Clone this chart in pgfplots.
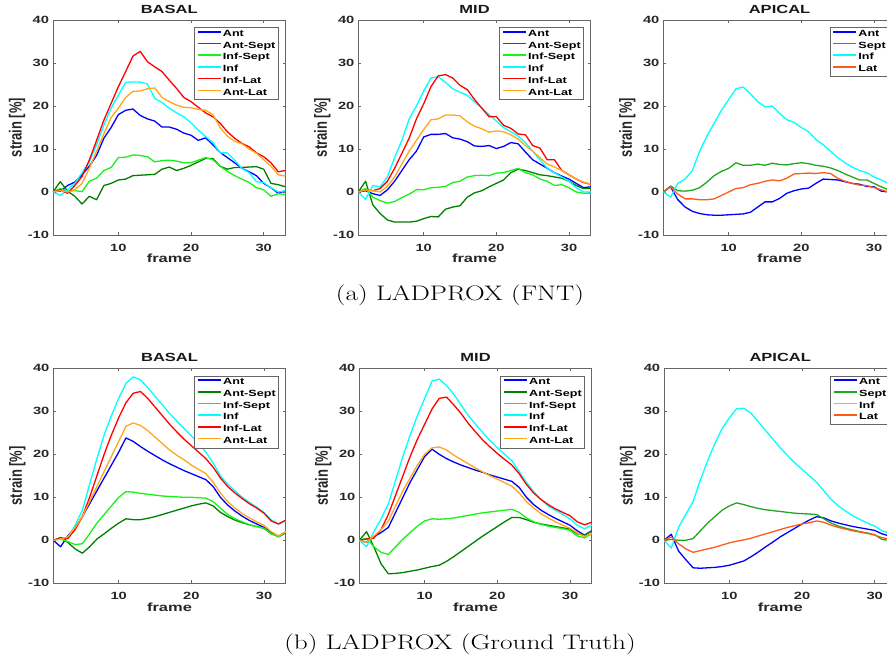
\documentclass[border=0pt]{standalone}
\usepackage{fontspec}
\usepackage{pgfplots}
\pgfplotsset{compat=1.18}
\usepackage{pgfplotstable}
\newfontfamily\hv{Liberation Sans}[FakeStretch=1.4]
\newfontfamily\hvr{Liberation Sans}
\newfontfamily\lmc{Latin Modern Roman}[FakeStretch=1.3]

\definecolor{cAnt}{rgb}{0,0,1}
\definecolor{cAntSept}{rgb}{0,0.5,0}
\definecolor{cInfSept}{rgb}{0.1,0.95,0.1}
\definecolor{cInf}{rgb}{0,1,1}
\definecolor{cInfLat}{rgb}{1,0,0}
\definecolor{cAntLat}{rgb}{1,0.65,0.1}
\definecolor{cSept}{rgb}{0.12,0.66,0.12}
\definecolor{cLat}{rgb}{1,0.35,0.1}

% BASAL (FNT)
\pgfplotstableread{
f ant antsept infsept inf inflat antlat
1 0 0 0 0 0 0
2 0.2 2.4 0.8 -0.8 0.5 0.3
3 1.5 0.2 0.2 0.5 -0.3 0
4 2.3 -1 0.3 2 1.5 0.5
5 4 -2.8 0.1 4.5 3.6 2
6 6 -1 2.5 7 7.4 5.5
7 8.5 -1.8 3.2 11 12 9.5
8 12.5 1.5 5 15.5 16.7 13.5
9 15 2 5.7 19.5 20.6 17.3
10 18 2.8 8 22.5 24.5 19.5
11 19 3 8.1 25.5 28 22
12 19.3 3.8 8.6 25.6 31.6 23.4
13 17.8 3.9 8.5 25.6 32.7 23.5
14 17 4 8.2 25.1 30.3 24
15 16.5 4.1 7 21.8 29.1 24.2
16 15.1 5.3 7.3 20.8 28 22
17 15.1 5.8 7.4 19.5 26 21
18 14.6 5 7.2 18.4 24.1 20.2
19 13.7 5.5 6.8 17.5 22 19.7
20 13.2 6.2 6.8 16.1 21 19.6
21 12 7 7.4 14.4 19.7 19.2
22 12.6 7.8 8 12.9 18.4 19
23 11 7.8 7.5 11.5 17.5 18
24 9.2 6 6 9.1 16 15
25 8 5.3 4.8 9.1 14 13
26 6.8 5.7 3.8 7.4 12.5 11.8
27 5.5 5.7 3 5.5 11.3 11.2
28 4.7 5.8 2.2 4.5 10.5 10
29 3.8 5.9 1 2.4 9.1 9
30 2 5.3 0.5 2.2 8.2 7.5
31 1 2 -1 1 6.8 6
32 -0.3 1.7 -0.4 0 4.7 4
33 0.3 1.2 -0.6 0.3 5 3.7
}\tA

% MID (FNT)
\pgfplotstableread{
f ant antsept infsept inf inflat antlat
1 0 0 0 0 0 0
2 0.3 2.5 0.8 -1.7 0.5 0.5
3 -0.4 -3 -1.2 1.5 0.3 0.3
4 -0.8 -5 -2 1.2 0.8 0
5 0.5 -6.5 -2.6 3.5 2.5 1.3
6 2.5 -7 -2.2 8 5.5 3.5
7 5 -7 -1.3 12 9 6.5
8 7.5 -7 -0.5 17 12.5 9.5
9 9.5 -6.8 0.5 20 17 12
10 12.8 -6.2 0.5 23.5 20.5 14.5
11 13.4 -5.7 1 26.5 24.5 16.8
12 13.4 -5.8 1.1 26.8 27 17
13 13.6 -4 1.3 25.5 27.3 17.9
14 12.6 -3.5 2.2 24 26.5 17.9
15 12.3 -3.2 2.5 23.2 24.8 17.7
16 11.7 -1.2 3.5 22.5 23.8 16.3
17 10.7 -0.2 3.8 21 21.5 15.3
18 10.6 0.3 3.9 19.5 19.5 14.7
19 10.8 1.2 3.8 18 17.5 13.9
20 10.1 2 4.4 16.5 17.5 14.2
21 10.6 2.8 4.5 15 15.5 14
22 11.5 4.5 5 14 14.8 13.3
23 11.2 5.3 5.5 13 13.5 12.3
24 9.3 5 4.5 11.5 13.3 10.8
25 7.5 4.5 4 9.5 10.8 9.5
26 6.5 4 3 7.5 10.2 8
27 5.5 3.8 2.5 5.5 7.5 6.5
28 4.5 3.5 1.5 4.5 7.5 5.8
29 3.7 3.2 1.7 3.5 5 5
30 3 2.5 1 2.5 4 4
31 2 1.5 0 1 3 3
32 1 0.8 -0.3 0 2.2 2.3
33 1.2 0.8 -0.3 0 1.8 1.8
}\tB

% APICAL (FNT)
\pgfplotstableread{
f ant sept inf lat
1 0 0 0 0
2 1.2 1.4 -1.2 1.2
3 -1.8 0.3 2 -0.5
4 -3.5 0.2 3 -1.6
5 -4.5 0.4 5 -1.6
6 -5 1 9.5 -1.8
7 -5.3 2.3 13 -1.8
8 -5.4 3.8 16 -1.6
9 -5.4 4.8 19 -0.8
10 -5.3 5.5 21.5 0
11 -5.2 6.8 24 0.8
12 -5.1 6.2 24.4 1
13 -4.7 6.2 22.8 1.7
14 -3.5 6.5 21 2
15 -2.3 6.2 19.8 2.5
16 -2.3 6.7 20 2.8
17 -1.5 6.4 18.3 2.6
18 -0.3 6.3 16.8 3.2
19 0.3 6.6 16.2 4.2
20 0.7 6.8 15 4.3
21 0.9 6.6 14 4.4
22 2 6.2 12.2 4.3
23 3 6 11 4.5
24 2.9 5.6 9.5 4.3
25 2.8 5 8 3.2
26 2.4 4.2 6.8 2.5
27 2 3.5 5.8 2
28 1.8 2.8 5 1.6
29 1.3 2.8 4.5 1.5
30 1.2 2 3.5 1
31 0.2 1.2 2.8 0.5
32 0 0.5 2 0
33 -0.2 0.2 1.5 -0.2
}\tC

% BASAL (Ground Truth)
\pgfplotstableread{
f ant antsept infsept inf inflat antlat
1 0 0 0 0 0 0
2 -1.5 0.6 0.3 0.3 0.6 0.3
3 1 -0.5 -0.3 0.5 0.4 0.8
4 3 -2 -1 3.5 2.5 3
5 5.5 -3 -0.8 7 5.5 5.5
6 8.5 -1.5 1.5 13 10 9
7 11.5 0.3 4 19 15 12.5
8 14.5 1.5 6 24.5 20 16
9 17.5 2.8 8 29 24.5 19.5
10 20.5 4 10 33 28.5 23
11 23.8 5 11.3 36.5 32 26.5
12 23 4.8 11.2 38 34.2 27.3
13 21.8 4.8 10.9 37.3 34.6 26.7
14 20.7 5.1 10.7 35.5 33 25.5
15 19.7 5.5 10.5 33.5 31 24
16 18.7 6 10.3 31.5 29 22.5
17 17.8 6.5 10.2 29.5 27 21
18 17 7 10.1 27.7 25.2 19.8
19 16.2 7.5 10 26 23.5 18.7
20 15.5 8 10 24.3 22 17.5
21 14.8 8.4 9.9 22.5 20.5 16.5
22 14.1 8.7 9.8 20.5 19 15.5
23 12.5 8 9 18 17 13.5
24 10 6.5 7.5 15 14.5 11
25 8.2 5.5 6 13 12.5 9
26 6.8 4.7 5 11.5 11 7.5
27 5.6 4.1 4.3 10 9.7 6.2
28 4.6 3.6 3.6 8.8 8.5 5.2
29 3.8 3.2 3.2 7.7 7.5 4.3
30 3 2.8 2.8 6.5 6.3 3.5
31 1.8 1.5 1.5 4.7 4.5 2
32 0.8 1 0.8 3.8 3.8 1
33 1.8 1.8 2 4.5 4.7 2
}\tD

% MID (Ground Truth)
\pgfplotstableread{
f ant antsept infsept inf inflat antlat
1 0 0 0 0 0 0
2 -0.5 2 0.5 -1.5 0.3 -0.5
3 0.8 -1.5 -1.5 2 0.5 1
4 1.8 -5.5 -2.8 5 2.5 2.5
5 3 -7.8 -3.3 8.5 6 4.5
6 6.5 -7.7 -1.5 14 10.5 8
7 10 -7.5 0.3 19.5 15 11.5
8 13.5 -7.2 1.8 24.5 19.5 14.5
9 16.5 -6.9 3.3 29 23.5 17.5
10 19.5 -6.5 4.5 33 27 20
11 21.2 -6.1 5 37 30.5 21.5
12 20 -5.8 4.9 37.5 33 21.7
13 19 -4.9 5 36 33.3 21
14 18.2 -3.8 5.2 34 31.5 19.8
15 17.5 -2.6 5.5 31.5 29.5 18.8
16 16.9 -1.4 5.8 29 27.2 17.8
17 16.3 -0.2 6.1 27 25.2 16.8
18 15.8 1 6.4 25 23.3 15.9
19 15.2 2.1 6.6 23.2 21.7 15
20 14.7 3.2 6.8 21.5 20.2 14.2
21 14.2 4.3 7 20 18.8 13.4
22 13.7 5.3 7.2 18.5 17.5 12.6
23 12.3 5.3 6.5 16 15.5 11
24 10 4.8 5.2 13.5 13 9
25 8.3 4.2 4.3 11.3 11 7.5
26 7 3.8 3.7 9.5 9.5 6.2
27 6 3.5 3.3 8 8.3 5.2
28 5.1 3.2 3 7 7.3 4.3
29 4.3 2.9 2.7 6 6.5 3.5
30 3.5 2.6 2.3 5 5.7 2.8
31 2.2 1.5 1 3.5 4.3 1.7
32 1.2 1.2 0.6 2.7 3.6 0.9
33 2.2 2.2 1.5 3.5 4.2 1.6
}\tE

% APICAL (Ground Truth)
\pgfplotstableread{
f ant sept inf lat
1 0 0 0 0
2 1.4 0.2 -1.8 0.8
3 -2.5 0 3 -0.8
4 -4.5 0 6 -2
5 -6.4 0.4 9 -2.8
6 -6.5 2.2 14 -2.4
7 -6.4 4 18.5 -2
8 -6.3 5.5 22.5 -1.6
9 -6.1 7 26 -1.1
10 -5.8 8 28.5 -0.6
11 -5.3 8.7 30.6 -0.2
12 -4.8 8.3 30.7 0.1
13 -3.8 7.8 29.5 0.5
14 -2.7 7.4 27.5 1
15 -1.5 7.1 25.5 1.5
16 -0.4 6.9 23.5 2
17 0.8 6.7 21.5 2.5
18 1.8 6.5 19.7 3
19 2.8 6.3 18 3.4
20 3.8 6.2 16.5 3.8
21 4.7 6.1 15 4.1
22 5.5 6 13.5 4.5
23 5.2 5 11.5 4.2
24 4.5 4 9.5 3.5
25 4 3.3 8 3
26 3.6 2.8 6.8 2.6
27 3.2 2.4 5.7 2.2
28 2.9 2 4.8 1.9
29 2.6 1.7 4 1.6
30 2.3 1.3 3.3 1.2
31 1.5 0.2 2.2 0.6
32 1 0 1.7 0.3
33 1 -0.2 1.5 0.2
}\tF

\newcommand\tickf{\hv\bfseries\fontsize{10.5}{12}\selectfont}
\newcommand\labf{\hv\bfseries\fontsize{11.8}{13}\selectfont}
\newcommand\legf{\hv\bfseries\fontsize{9}{10}\selectfont}
\newcommand\ylabf{\hvr\bfseries\fontsize{13}{15}\selectfont}

\pgfplotsset{
  every axis title shift=0pt,
  strain/.style={
    scale only axis, width=232.5pt, height=215pt,
    xmin=1, xmax=33, ymin=-10, ymax=40,
    xtick={10,20,30}, xticklabels={10,20,30},
    ytick={-10,0,10,20,30,40}, yticklabels={-10,0,10,20,30,40},
    tick align=inside, major tick length=3pt,
    axis line style={draw=black!60, line width=0.7pt},
    every tick/.style={draw=black!60, line width=0.6pt},
    xticklabel style={font=\tickf, text=black!85, anchor=base, yshift=-16.7pt, inner sep=0pt},
    yticklabel style={font=\tickf, text=black!85, anchor=east, xshift=-3.7pt, inner sep=0pt},
    title style={font=\labf, text=black!90, anchor=base, at={(axis description cs:0.5,1)}, yshift=6.7pt, inner sep=0pt},
    xlabel=frame,
    xlabel style={font=\labf, text=black!85, anchor=base, at={(axis description cs:0.5,0)}, yshift=-28pt, inner sep=0pt},
    legend style={at={(axis description cs:1,1)}, anchor=north east, xshift=-7.3pt, yshift=-7.3pt,
      draw=black!60, line width=0.6pt, fill=white, font=\legf,
      inner xsep=2.5pt, inner ysep=2.5pt, row sep=3.2pt, column sep=1.5pt,
      nodes={inner sep=0pt, text height=6.5pt, text depth=2pt}},
    legend cell align=left,
    legend image code/.code={\draw[#1, line width=1.6pt] (0pt,2.5pt) -- (23pt,2.5pt);},
    every axis plot/.append style={line width=1.3pt, line join=round},
  }
}
\tikzset{ylab/.style={rotate=90, yscale=1.35, anchor=center, inner sep=0pt, font=\ylabf, text=black!85}}

\begin{document}
\begin{tikzpicture}[x=1pt,y=1pt]
% ---------- (a) FNT ----------
\begin{axis}[strain, name=A, at={(53pt,433pt)}, anchor=south west, title=BASAL,
  legend entries={Ant,Ant-Sept,Inf-Sept,Inf,Inf-Lat,Ant-Lat}]
\addplot[cAnt] table[x=f,y=ant]{\tA};
\addplot[cAntSept] table[x=f,y=antsept]{\tA};
\addplot[cInfSept] table[x=f,y=infsept]{\tA};
\addplot[cInf] table[x=f,y=inf]{\tA};
\addplot[cInfLat] table[x=f,y=inflat]{\tA};
\addplot[cAntLat] table[x=f,y=antlat]{\tA};
\end{axis}
\node[ylab] at ([xshift=-36pt]A.west) {strain [\%]};
\begin{axis}[strain, name=B, at={(358.3pt,433pt)}, anchor=south west, title=MID,
  legend entries={Ant,Ant-Sept,Inf-Sept,Inf,Inf-Lat,Ant-Lat}]
\addplot[cAnt] table[x=f,y=ant]{\tB};
\addplot[cAntSept] table[x=f,y=antsept]{\tB};
\addplot[cInfSept] table[x=f,y=infsept]{\tB};
\addplot[cInf] table[x=f,y=inf]{\tB};
\addplot[cInfLat] table[x=f,y=inflat]{\tB};
\addplot[cAntLat] table[x=f,y=antlat]{\tB};
\end{axis}
\node[ylab] at ([xshift=-36pt]B.west) {strain [\%]};
\begin{axis}[strain, name=C, at={(663.3pt,433pt)}, anchor=south west, title=APICAL,
  legend entries={Ant,Sept,Inf,Lat}]
\addplot[cAnt] table[x=f,y=ant]{\tC};
\addplot[cSept] table[x=f,y=sept]{\tC};
\addplot[cInf] table[x=f,y=inf]{\tC};
\addplot[cLat] table[x=f,y=lat]{\tC};
\end{axis}
\node[ylab] at ([xshift=-36pt]C.west) {strain [\%]};
% ---------- (b) Ground Truth ----------
\begin{axis}[strain, name=D, at={(53.3pt,84.7pt)}, anchor=south west, title=BASAL,
  legend entries={Ant,Ant-Sept,Inf-Sept,Inf,Inf-Lat,Ant-Lat}]
\addplot[cAnt] table[x=f,y=ant]{\tD};
\addplot[cAntSept] table[x=f,y=antsept]{\tD};
\addplot[cInfSept] table[x=f,y=infsept]{\tD};
\addplot[cInf] table[x=f,y=inf]{\tD};
\addplot[cInfLat] table[x=f,y=inflat]{\tD};
\addplot[cAntLat] table[x=f,y=antlat]{\tD};
\end{axis}
\node[ylab] at ([xshift=-36pt]D.west) {strain [\%]};
\begin{axis}[strain, name=E, at={(359.3pt,84.7pt)}, anchor=south west, title=MID,
  legend entries={Ant,Ant-Sept,Inf-Sept,Inf,Inf-Lat,Ant-Lat}]
\addplot[cAnt] table[x=f,y=ant]{\tE};
\addplot[cAntSept] table[x=f,y=antsept]{\tE};
\addplot[cInfSept] table[x=f,y=infsept]{\tE};
\addplot[cInf] table[x=f,y=inf]{\tE};
\addplot[cInfLat] table[x=f,y=inflat]{\tE};
\addplot[cAntLat] table[x=f,y=antlat]{\tE};
\end{axis}
\node[ylab] at ([xshift=-36pt]E.west) {strain [\%]};
\begin{axis}[strain, name=F, at={(664pt,84.7pt)}, anchor=south west, title=APICAL,
  legend entries={Ant,Sept,Inf,Lat}]
\addplot[cAnt] table[x=f,y=ant]{\tF};
\addplot[cSept] table[x=f,y=sept]{\tF};
\addplot[cInf] table[x=f,y=inf]{\tF};
\addplot[cLat] table[x=f,y=lat]{\tF};
\end{axis}
\node[ylab] at ([xshift=-36pt]F.west) {strain [\%]};
% captions
\node[font=\lmc\fontsize{21}{24}\selectfont, anchor=base, inner sep=0pt] at (460pt,367.3pt) {(a) LADPROX (FNT)};
\node[font=\lmc\fontsize{21}{24}\selectfont, anchor=base, inner sep=0pt] at (460pt,18pt) {(b) LADPROX (Ground Truth)};
\pgfresetboundingbox
\path[use as bounding box] (0pt,0pt) rectangle (887pt,668pt);
\end{tikzpicture}
\end{document}
